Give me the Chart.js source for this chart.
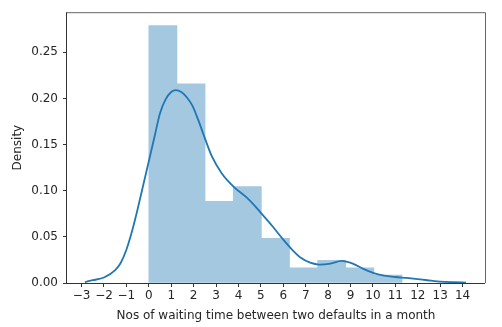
<!DOCTYPE html>
<html>
<head>
<meta charset="utf-8">
<script src="https://cdn.jsdelivr.net/npm/chart.js@4/dist/chart.umd.min.js"></script>
<style>
	html, body { margin: 0; padding: 0; background: #fff; }
	canvas { display: block; }
</style>
</head>
<body>
<canvas id="chart" width="502" height="327"></canvas>
<script>
// histogram bins (edges) and their densities
const binEdges = [0, 1.256, 2.511, 3.767, 5.022, 6.278, 7.533, 8.789, 10.044, 11.3]
const binDensity = [0.279, 0.216, 0.0885, 0.1045, 0.0485, 0.0165, 0.0245, 0.0165, 0.0085]

// kde curve
const kdeX = [-2.85, -2.5, -2.0, -1.5, -1.25, -1.0, -0.75, -0.5, -0.25, 0, 0.25, 0.5, 0.75, 1.0, 1.2, 1.45, 1.7, 1.95, 2.2, 2.5, 2.8, 3.25, 3.8, 4.35, 4.75, 5.0, 5.5, 6.0, 6.4, 6.8, 7.2, 7.6, 8.1, 8.6, 9.1, 9.6, 10.0, 10.5, 11.0, 11.5, 12.1, 12.6, 13.0, 13.6, 14.15]
const kdeY = [0.001, 0.003, 0.006, 0.014, 0.022, 0.036, 0.056, 0.080, 0.106, 0.132, 0.158, 0.184, 0.199, 0.207, 0.209, 0.207, 0.201, 0.192, 0.177, 0.157, 0.138, 0.119, 0.104, 0.093, 0.083, 0.076, 0.062, 0.047, 0.036, 0.027, 0.022, 0.020, 0.021, 0.024, 0.021, 0.015, 0.011, 0.008, 0.0065, 0.0055, 0.004, 0.0025, 0.0015, 0.0008, 0.0004]

const xTicks = [-3, -2, -1, 0, 1, 2, 3, 4, 5, 6, 7, 8, 9, 10, 11, 12, 13, 14]
const yTicks = [0, 0.05, 0.10, 0.15, 0.20, 0.25]

const xLabel = 'Nos of waiting time between two defaults in a month'
const yLabel = 'Density'

const font = { family: 'DejaVu Sans', size: 12 }
const textColor = '#262626'

const histData = binDensity.map((d, i) => ({ x: (binEdges[i] + binEdges[i + 1]) / 2, y: d }))
const kdeData = kdeX.map((x, i) => ({ x: x, y: kdeY[i] }))

const frame = {
	id: 'frame',
	afterDraw(chart) {
		const { ctx, chartArea: a } = chart
		ctx.save()
		ctx.lineWidth = 1
		ctx.strokeStyle = '#333'
		ctx.beginPath()
		ctx.moveTo(a.left - 0.5, a.top)
		ctx.lineTo(a.left - 0.5, a.bottom + 0.5)
		ctx.lineTo(a.right, a.bottom + 0.5)
		ctx.stroke()
		ctx.strokeStyle = '#666'
		ctx.beginPath()
		ctx.moveTo(a.left, a.top + 0.5)
		ctx.lineTo(a.right + 0.5, a.top + 0.5)
		ctx.lineTo(a.right + 0.5, a.bottom)
		ctx.stroke()
		ctx.restore()
	},
}

const minus = v => (v < 0 ? '\u2212' + Math.abs(v) : '' + v)

new Chart(document.getElementById('chart'), {
	type: 'bar',
	data: {
		datasets: [
			{
				type: 'line',
				data: kdeData,
				borderColor: '#1f77b4',
				borderWidth: 1.8,
				pointRadius: 0,
				fill: false,
				cubicInterpolationMode: 'monotone',
			},
			{
				type: 'bar',
				data: histData,
				backgroundColor: '#a5c8e1',
				borderWidth: 0,
				barThickness: 'flex',
				categoryPercentage: 1,
				barPercentage: 1,
			},
		],
	},
	options: {
		responsive: false,
		animation: false,
		devicePixelRatio: 1,
		layout: { padding: { top: 11, right: 17, left: 0, bottom: 0 } },
		plugins: { legend: { display: false }, tooltip: { enabled: false } },
		scales: {
			x: {
				type: 'linear',
				min: -3.65,
				max: 15.0,
				offset: false,
				afterFit: s => { s.height = 44 },
				afterBuildTicks: s => { s.ticks = xTicks.map(v => ({ value: v })) },
				grid: { drawOnChartArea: false, drawTicks: true, tickLength: 4, color: '#333', offset: false },
				border: { display: false },
				ticks: { font: font, color: textColor, padding: 2, maxRotation: 0, autoSkip: false, callback: minus },
				title: { display: true, text: xLabel, font: font, color: textColor, padding: { top: 0, bottom: 4 } },
			},
			y: {
				min: 0,
				max: 0.2935,
				afterFit: s => { s.width = 67 },
				afterBuildTicks: s => { s.ticks = yTicks.map(v => ({ value: v })) },
				grid: { drawOnChartArea: false, drawTicks: true, tickLength: 4, color: '#333' },
				border: { display: false },
				ticks: { font: font, color: textColor, padding: 5, callback: v => v.toFixed(2) },
				title: { display: true, text: yLabel, font: font, color: textColor, padding: { top: 11, bottom: 0 } },
			},
		},
	},
	plugins: [frame],
})
</script>
</body>
</html>
